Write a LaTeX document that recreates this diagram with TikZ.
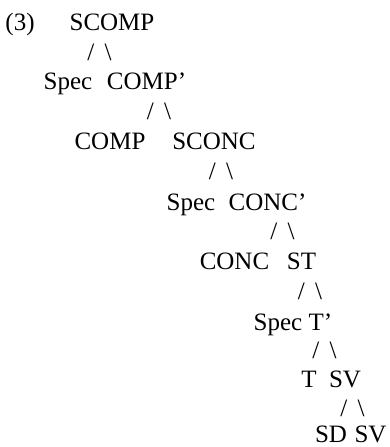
\documentclass[tikz,border=0pt]{standalone}
\usepackage{fontspec}
\setmainfont{Liberation Serif}
\usetikzlibrary{positioning}

\begin{document}
\begin{tikzpicture}[x=1pt,y=-1pt]
	\tikzstyle{cat}=[inner sep=0pt,anchor=base,font=\fontsize{25}{30}\selectfont]
	\tikzstyle{branch}=[cat]
	\newcommand{\branches}{/\hspace{0.42em}\textbackslash}
	\useasboundingbox (0,0) rectangle (390,447);
	
	%
	% example number and root
	%
	\node [cat] (num) at (20,30) {(3)};
	\node [cat] (SCOMP) at (112,30) {SCOMP};
	\node [branch] (br-SCOMP) at (99.5,60) {\branches};
	
	%
	% COMP level
	%
	\node [cat] (spec-COMP) at (68,89) {Spec};
	\node [cat] (COMPbar) at (146.5,89) {COMP’};
	\node [branch] (br-COMPbar) at (159,119) {\branches};
	\node [cat] (COMP) at (110,149) {COMP};
	\node [cat] (SCONC) at (214,149) {SCONC};
	\node [branch] (br-SCONC) at (221,179) {\branches};
	
	%
	% CONC level
	%
	\node [cat] (spec-CONC) at (191,210) {Spec};
	\node [cat] (CONCbar) at (267.5,210) {CONC’};
	\node [branch] (br-CONCbar) at (282.5,239) {\branches};
	\node [cat] (CONC) at (234.5,269) {CONC};
	\node [cat] (ST) at (301.5,269) {ST};
	\node [branch] (br-ST) at (310,299) {\branches};
	
	%
	% T level
	%
	\node [cat] (spec-T) at (278,330) {Spec};
	\node [cat] (Tbar) at (320.5,330) {T’};
	\node [branch] (br-Tbar) at (324.5,358) {\branches};
	\node [cat] (T) at (309,387) {T};
	\node [cat] (SV) at (345,387) {SV};
	\node [branch] (br-SV) at (352.5,416) {\branches};
	\node [cat] (SD) at (331,442) {SD};
	\node [cat] (SV-low) at (370.5,442) {SV};
	
\end{tikzpicture}
\end{document}
